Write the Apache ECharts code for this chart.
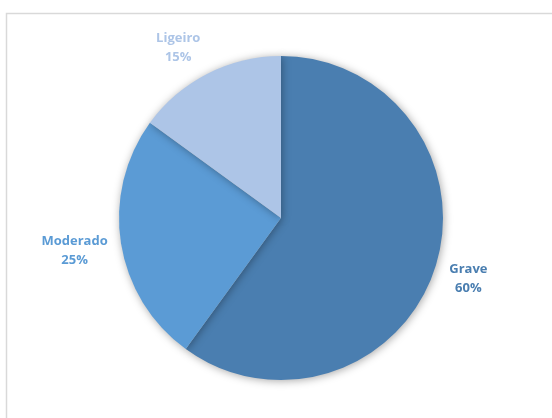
<!DOCTYPE html>
<html>
<head>
<meta charset="utf-8">
<script src="https://cdn.jsdelivr.net/npm/echarts@6/dist/echarts.min.js"></script>
<style>
html,body{margin:0;padding:0;background:#fff;}
#c{width:552px;height:418px;}
</style>
</head>
<body>
<div id="c"></div>
<script>
const categories = ['Grave', 'Moderado', 'Ligeiro'];
const values = [60, 25, 15];
const colors = ['#4a7eb0', '#5b9bd5', '#adc5e7'];

const CX = 281, CY = 218, R = 162;
const labelDist = [197, 209, 200];
const labelShift = [[0, 0], [0, 0], [-12, 8]];

const total = values.reduce((a, b) => a + b, 0);
const midAngles = [];
let acc = 0;
values.forEach(v => { midAngles.push((acc + v / 2) / total * 2 * Math.PI); acc += v; });

const chart = echarts.init(document.getElementById('c'), null, {renderer: 'canvas'});
chart.setOption({
  backgroundColor: '#fff',
  animation: false,
  graphic: [{
    type: 'rect',
    shape: {x: 6.5, y: 13.5, width: 600, height: 500},
    style: {fill: 'none', stroke: '#d9d9d9', lineWidth: 1.5},
    silent: true, z: 0
  }],
  series: [{
    type: 'pie',
    center: [CX, CY],
    radius: [0, R],
    startAngle: 90,
    clockwise: true,
    data: categories.map((c, i) => ({
      name: c, value: values[i],
      itemStyle: {color: colors[i]},
      label: {color: colors[i]}
    })),
    itemStyle: {
      shadowBlur: 8,
      shadowColor: 'rgba(0,0,0,0.35)',
      shadowOffsetX: 1,
      shadowOffsetY: 1
    },
    label: {
      show: true,
      position: 'outside',
      formatter: p => '{a|' + p.name + '}\n{a|' + Math.round(p.percent) + '%}',
      fontFamily: 'Open Sans',
      fontWeight: 'bold',
      fontSize: 13,
      lineHeight: 19,
      rich: {a: {align: 'center', fontFamily: 'Open Sans', fontWeight: 'bold', fontSize: 13, lineHeight: 19}}
    },
    labelLine: {show: false, length: 18, length2: 0},
    labelLayout: function (params) {
      const i = params.dataIndex;
      const a = midAngles[i];
      const d = labelDist[i];
      return {
        x: CX + Math.sin(a) * d + labelShift[i][0],
        y: CY - Math.cos(a) * d + labelShift[i][1],
        align: 'center',
        verticalAlign: 'middle'
      };
    }
  }]
});
</script>
</body>
</html>
